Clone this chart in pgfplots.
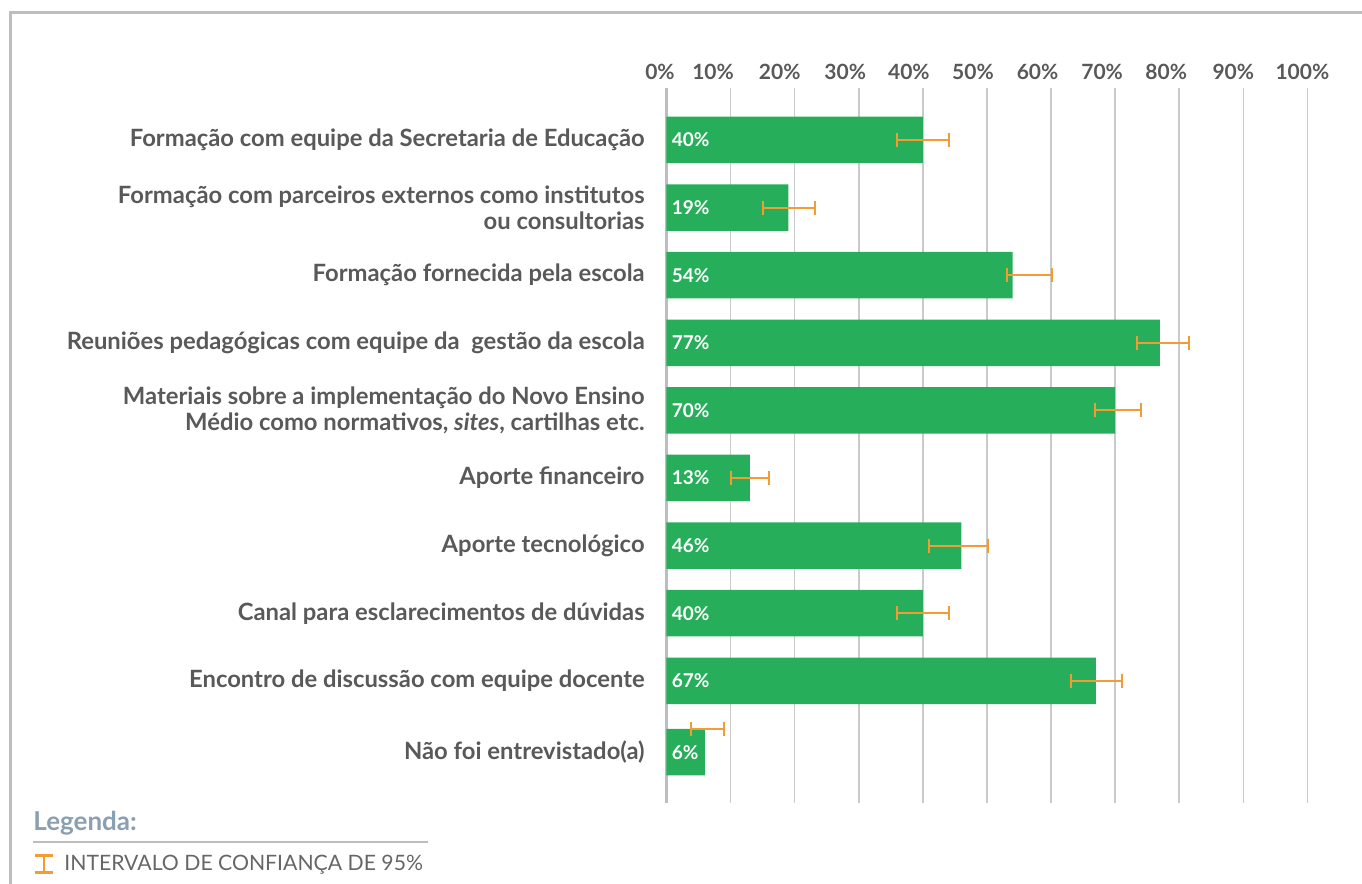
\documentclass[border=0pt]{standalone}
\usepackage{pgfplots}
\pgfplotsset{compat=1.18}
\usepackage{pgfplotstable}
\usepackage{fontspec}
\setmainfont{Lato}
\definecolor{barg}{HTML}{27AE5A}
\definecolor{errc}{HTML}{F39C34}
\definecolor{labc}{HTML}{595959}
\definecolor{gridc}{HTML}{CACACA}
\definecolor{framec}{HTML}{BDBDBD}
\definecolor{legc}{HTML}{8A9FB1}
\definecolor{itemc}{HTML}{666666}
\newcommand{\tl}[2]{\makebox[0pt][c]{\kern-#1pt #2}}

\pgfplotstableread{
y val lo hi ey
0 40 36.0 44.1 0
1 19 15.0 23.1 1.01
2 54 53.1 60.1 2
3 77 73.4 81.5 3
4 70 66.8 74.0 4
5 13 10.0 16.0 5
6 46 41.0 50.1 6.01
7 40 36.0 44.1 7
8 67 63.1 71.0 8
9.056 6 3.8 9.0 8.71
}\datatable

\begin{document}
\begin{tikzpicture}
\path[use as bounding box] (0,0) rectangle (681pt,-442pt);
\draw[framec, line width=1.5pt] (5pt,-442pt) -- (5pt,-6.25pt) -- (681pt,-6.25pt);
\begin{axis}[
  at={(333.25pt,-44pt)}, anchor=north west,
  scale only axis, width=320.45pt, height=357.5pt,
  xmin=0, xmax=100, ymin=-0.769, ymax=9.808, y dir=reverse,
  axis line style={draw=none},
  xtick={0,10,...,100},
  xticklabels={\tl{6.5}{0\%},\tl{17.5}{10\%},\tl{15}{20\%},\tl{13.5}{30\%},\tl{14}{40\%},\tl{14}{50\%},\tl{13.5}{60\%},\tl{13}{70\%},\tl{13}{80\%},\tl{10}{90\%},\tl{5}{100\%}},
  xticklabel pos=upper,
  xticklabel style={inner sep=0pt, yshift=4pt, text=labc, font=\fontsize{10.5}{13}\selectfont\bfseries},
  xmajorgrids, major grid style={draw=gridc, line width=0.75pt},
  major tick length=0pt,
  ytick={0,1,2,3,4,5,6,7,8,9.056},
  yticklabels={
    Formação com equipe da Secretaria de Educação,
    Formação com parceiros externos como institutos\\ou consultorias,
    Formação fornecida pela escola,
    Reuniões pedagógicas com equipe da\ \ gestão da escola,
    Materiais sobre a implementação do Novo Ensino\\{Médio como normativos, \textit{sites}, cartilhas etc.},
    Aporte financeiro,
    Aporte tecnológico,
    Canal para esclarecimentos de dúvidas,
    Encontro de discussão com equipe docente,
    Não foi entrevistado(a)},
  yticklabel style={align=right, inner sep=0pt, xshift=-10.75pt, text=labc, font=\fontsize{11.9}{13}\selectfont\bfseries},
  clip=false,
]
\draw[framec, line width=1.5pt] (axis cs:0,-0.769) -- (axis cs:0,9.808);
\addplot[xbar, bar shift=0pt, bar width=23.25pt, fill=barg, draw=none] table[x=val, y=y]{\datatable};
\addplot[draw=none, mark=none, forget plot, point meta=explicit,
  nodes near coords={\pgfmathprintnumber[assume math mode=true]{\pgfplotspointmeta}\%},
  nodes near coords style={anchor=west, inner sep=0pt, xshift=2.5pt, text=white, font=\fontsize{9.5}{11}\selectfont\bfseries}]
  table[x expr=0, y=y, meta=val]{\datatable};
\addplot[draw=none, mark=none, forget plot,
  error bars/.cd, x dir=both, x explicit,
  error bar style={draw=errc, line width=1pt},
  error mark options={draw=errc, line width=1pt, mark size=3.5pt, rotate=90}]
  table[x expr={(\thisrow{lo}+\thisrow{hi})/2}, y=ey, x error expr={(\thisrow{hi}-\thisrow{lo})/2}]{\datatable};
\end{axis}
\node[anchor=west, inner sep=0pt, text=legc, font=\fontsize{13}{15}\selectfont\bfseries] at (16.5pt,-411.5pt) {Legenda:};
\draw[framec, line width=0.75pt] (16.5pt,-421pt) -- (214pt,-421pt);
\draw[errc, line width=1.3pt] (17.5pt,-427.75pt) -- (26.25pt,-427.75pt) (21.9pt,-427.75pt) -- (21.9pt,-436.25pt) (17.5pt,-436.25pt) -- (26.25pt,-436.25pt);
\node[anchor=west, inner sep=0pt, text=itemc, font=\fontsize{10.6}{12}\selectfont] at (32pt,-432.5pt) {INTERVALO DE CONFIANÇA DE 95\%};
\end{tikzpicture}
\end{document}
